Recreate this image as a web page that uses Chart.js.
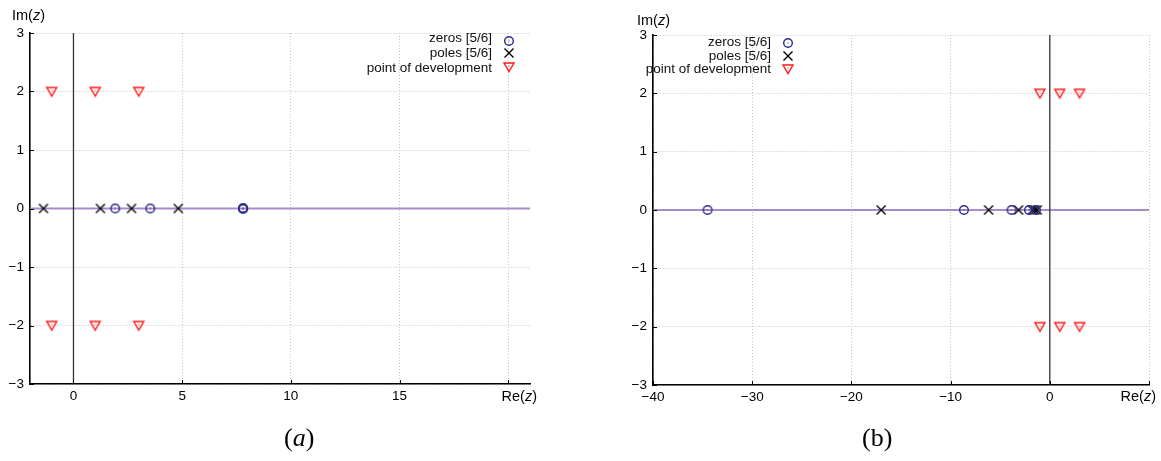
<!DOCTYPE html>
<html>
<head>
<meta charset="utf-8">
<script src="https://cdn.jsdelivr.net/npm/chart.js@4/dist/chart.umd.min.js"></script>
<style>
  body { margin: 0; background: #fff; width: 1161px; height: 461px; position: relative; overflow: hidden; }
  canvas { position: absolute; top: 0; }
  #chartA { left: 0; }
  #chartB { left: 580px; }
  .caption { position: absolute; top: 423px; font-family: "Liberation Serif", "DejaVu Serif", serif; font-size: 26px; color: #000; }
</style>
</head>
<body>
<canvas id="chartA" width="580" height="461"></canvas>
<canvas id="chartB" width="581" height="461"></canvas>
<div class="caption" style="left:284px">(<i>a</i>)</div>
<div class="caption" style="left:862px">(b)</div>

<script>
// ---- data ----
const imRange = [-3, 3];
const imTicks = [-3, -2, -1, 0, 1, 2, 3];

// (a)
const reRangeA = [-2, 21];
const reTicksA = [0, 5, 10, 15, 20];
const zerosA = [1.92, 3.53, 7.8, 7.8, 7.8];
const polesA = [-1.38, 1.24, 2.67, 4.82];

// (b)
const reRangeB = [-40, 10];
const reTicksB = [-40, -30, -20, -10, 0, 10];
const zerosB = [-34.5, -8.66, -3.86, -2.1, -1.4];
const polesB = [-17.0, -6.17, -3.15, -1.75, -1.5, -1.27];

// points of development (same for both)
const devRe = [-1, 1, 3];
const devIm = [2, -2];

const legendLabels = ['zeros [5/6]', 'poles [5/6]', 'point of development'];

const FONT = '"Liberation Sans", Arial, Helvetica, sans-serif';

// ---- marker glyphs ----
function makeSymbol(kind) {
    const c = document.createElement('canvas');
    c.width = 14; c.height = 14;
    const g = c.getContext('2d');
    g.lineWidth = 1.4;
    if (kind === 'zero') {
        g.strokeStyle = '#28288a';
        g.beginPath(); g.arc(7, 7, 4.3, 0, Math.PI * 2); g.stroke();
        g.fillStyle = '#28288a';
        g.fillRect(6.5, 6.5, 1, 1);
    } else if (kind === 'pole') {
        g.strokeStyle = '#000';
        g.beginPath();
        g.moveTo(2.5, 2.5); g.lineTo(11.5, 11.5);
        g.moveTo(11.5, 2.5); g.lineTo(2.5, 11.5);
        g.stroke();
    } else {
        g.strokeStyle = '#ff1a1a';
        g.beginPath();
        g.moveTo(2, 3); g.lineTo(12, 3); g.lineTo(7, 11.5); g.closePath();
        g.stroke();
        g.fillStyle = '#ff1a1a';
        g.fillRect(6.5, 5.5, 1, 1);
    }
    return c;
}
const symZero = makeSymbol('zero');
const symPole = makeSymbol('pole');
const symDev = makeSymbol('dev');

function fmt(v) {
    return String(v).replace('-', '\u2212');
}

// draw "Re(" + italic "z" + ")" style labels
function drawMixed(ctx, parts, x, y, align, size) {
    const fonts = parts.map(p => (p[1] ? 'italic ' : '') + size + 'px ' + FONT);
    let total = 0;
    parts.forEach((p, i) => { ctx.font = fonts[i]; total += ctx.measureText(p[0]).width; });
    let cx = align === 'right' ? x - total : x;
    ctx.textAlign = 'left';
    ctx.textBaseline = 'middle';
    parts.forEach((p, i) => {
        ctx.font = fonts[i];
        ctx.fillText(p[0], cx, y);
        cx += ctx.measureText(p[0]).width;
    });
}

const decorPlugin = {
    id: 'decor',
    afterDraw(chart, args, opts) {
        const ctx = chart.ctx;
        const area = chart.chartArea;
        ctx.save();
        ctx.fillStyle = '#000';
        // axis titles
        drawMixed(ctx, [['Im(', false], ['z', true], [')', false]], opts.imX, opts.imY, 'left', 14.5);
        drawMixed(ctx, [['Re(', false], ['z', true], [')', false]], area.right + 7, 397, 'right', 14.5);
        // legend
        const syms = [symZero, symPole, symDev];
        legendLabels.forEach((lab, i) => {
            const y = opts.legRows[i];
            ctx.font = '13.5px ' + FONT;
            ctx.textAlign = 'right';
            ctx.textBaseline = 'middle';
            ctx.fillStyle = '#111';
            ctx.fillText(lab, opts.legTextX, y);
            ctx.drawImage(syms[i], opts.legSymX - 7, opts.legSymY[i] - 7);
        });
        // short inward tick marks
        ctx.strokeStyle = '#000';
        ctx.lineWidth = 1;
        const xs = chart.scales.x, ys = chart.scales.y;
        ctx.beginPath();
        imTicks.forEach(v => {
            const py = Math.round(ys.getPixelForValue(v)) + 0.5;
            ctx.moveTo(area.left, py); ctx.lineTo(area.left + 4, py);
        });
        opts.reTicks.forEach(v => {
            const px = Math.round(xs.getPixelForValue(v)) + 0.5;
            ctx.moveTo(px, area.bottom); ctx.lineTo(px, area.bottom - 4);
        });
        ctx.stroke();
        ctx.restore();
    }
};

function buildDatasets(zeros, poles, reRange) {
    const dev = [];
    devIm.forEach(im => devRe.forEach(re => dev.push({ x: re, y: im })));
    return [
        {
            label: 'real axis',
            data: [{ x: reRange[0], y: 0 }, { x: reRange[1], y: 0 }],
            showLine: true, borderColor: '#a68ccb', borderWidth: 2,
            pointRadius: 0, order: 10
        },
        {
            label: 'imaginary axis',
            data: [{ x: 0, y: imRange[0] }, { x: 0, y: imRange[1] }],
            showLine: true, borderColor: '#333', borderWidth: 1.3,
            pointRadius: 0, order: 9
        },
        { label: legendLabels[0], data: zeros.map(v => ({ x: v, y: 0 })), pointStyle: symZero, pointRadius: 7, order: 1 },
        { label: legendLabels[1], data: poles.map(v => ({ x: v, y: 0 })), pointStyle: symPole, pointRadius: 7, order: 2 },
        { label: legendLabels[2], data: dev, pointStyle: symDev, pointRadius: 7, order: 3 }
    ];
}

function buildOptions(cfg) {
    const grid = { color: '#c4c4c4', lineWidth: 1, drawTicks: false };
    const border = { display: true, color: '#000', width: 1.6, dash: [1, 2] };
    return {
        responsive: false,
        animation: false,
        layout: { padding: cfg.padding },
        plugins: {
            legend: { display: false },
            tooltip: { enabled: false },
            decor: cfg.decor
        },
        scales: {
            x: {
                type: 'linear',
                min: cfg.reRange[0], max: cfg.reRange[1],
                afterBuildTicks: axis => { axis.ticks = cfg.reTicks.map(v => ({ value: v })); },
                afterFit: axis => { axis.height = cfg.xHeight; },
                grid: grid, border: border,
                ticks: {
                    padding: 4, color: '#000', maxRotation: 0, autoSkip: false,
                    font: { family: FONT, size: 13.5 },
                    callback: v => (v === cfg.reTicks[cfg.reTicks.length - 1] ? '' : fmt(v))
                }
            },
            y: {
                type: 'linear',
                min: imRange[0], max: imRange[1],
                afterBuildTicks: axis => { axis.ticks = imTicks.map(v => ({ value: v })); },
                afterFit: axis => { axis.width = 30; },
                grid: grid, border: border,
                ticks: {
                    padding: 6, color: '#000',
                    font: { family: FONT, size: 13.5 },
                    callback: v => fmt(v)
                }
            }
        }
    };
}

new Chart(document.getElementById('chartA'), {
    type: 'scatter',
    data: { datasets: buildDatasets(zerosA, polesA, reRangeA) },
    options: buildOptions({
        reRange: reRangeA, reTicks: reTicksA,
        padding: { left: 0, right: 50, top: 33, bottom: 0 },
        xHeight: 77,
        decor: {
            imX: 12, imY: 16, reTicks: reTicksA,
            legTextX: 492, legSymX: 509,
            legRows: [38, 53, 68], legSymY: [41, 53, 67]
        }
    }),
    plugins: [decorPlugin]
});

new Chart(document.getElementById('chartB'), {
    type: 'scatter',
    data: { datasets: buildDatasets(zerosB, polesB, reRangeB) },
    options: buildOptions({
        reRange: reRangeB, reTicks: reTicksB,
        padding: { left: 43, right: 12, top: 35, bottom: 0 },
        xHeight: 76,
        decor: {
            imX: 57, imY: 21, reTicks: reTicksB,
            legTextX: 191, legSymX: 208,
            legRows: [42, 56, 69], legSymY: [43, 56, 69]
        }
    }),
    plugins: [decorPlugin]
});
</script>
</body>
</html>
